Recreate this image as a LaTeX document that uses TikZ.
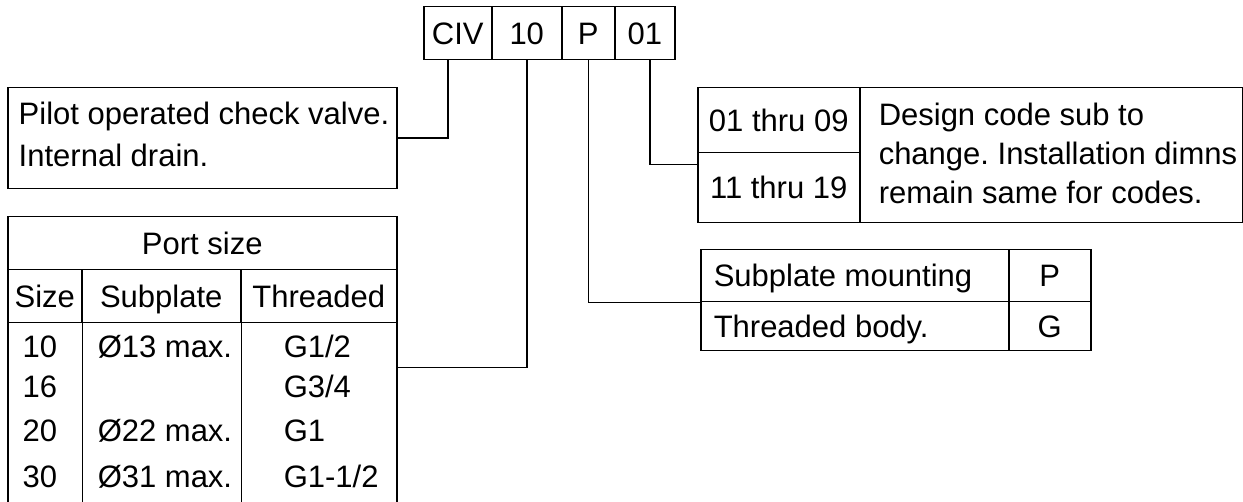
\documentclass[tikz,border=0pt]{standalone}
\usepackage{fontspec}
\setmainfont{Liberation Sans}
\frenchspacing
\begin{document}
\begin{tikzpicture}[x=1pt, y=-1pt, line width=1.5pt,
    every node/.style={font=\fontsize{31}{39}\selectfont},
    cell/.style={draw, rectangle, anchor=north west, inner sep=0pt,
      text height=22pt, text depth=0pt},
    txt/.style={inner sep=0pt, align=left}]
  \useasboundingbox (0,0) rectangle (1243,502);
  \clip (0,0) rectangle (1243,502);

  % order code
  \node[cell, minimum width=68pt, minimum height=53pt] (civ) at (423,6) {CIV};
  \node[cell, minimum width=70pt, minimum height=53pt] (size) at (491,6) {10};
  \node[cell, minimum width=53pt, minimum height=53pt] (mount) at (561,6) {P};
  \node[cell, minimum width=60pt, minimum height=53pt] (design) at (614,6) {01};

  % valve type
  \node[cell, minimum width=389pt, minimum height=101pt] (pilot) at (7,87) {};
  \node[txt, anchor=north west, font=\fontsize{31}{42}\selectfont] (pilottext)
    at (18,101) {Pilot operated check valve.\\Internal drain.};

  % port size table
  \node[cell, minimum width=389pt, minimum height=302pt] (port) at (7,216) {};
  \node[cell, minimum width=389pt, minimum height=53pt] (porthead) at (7,216) {Port size};
  \node[cell, minimum width=74pt, minimum height=53pt] (sizehead) at (7,269) {Size};
  \node[cell, minimum width=159pt, minimum height=53pt] (platehead) at (81,269) {Subplate};
  \node[cell, minimum width=156pt, minimum height=53pt] (threadhead) at (240,269) {Threaded};
  \draw (sizehead.south east) -- (sizehead.south east |- port.south);
  \draw (platehead.south east) -- (platehead.south east |- port.south);
  \foreach \y/\sz/\plate/\thread in {358/10/{Ø13 max.}/{G1/2}, 398/16//{G3/4},
      442/20/{Ø22 max.}/G1, 488/30/{Ø31 max.}/{G1-1/2}} {
    \node[txt, anchor=base west] (sz-\sz) at (22,\y) {\sz};
    \node[txt, anchor=base west] (plate-\sz) at (97,\y) {\plate};
    \node[txt, anchor=base west] (thread-\sz) at (283,\y) {\thread};
  }

  % design code table
  \node[cell, minimum width=162pt, minimum height=65pt] (code1) at (697,87) {01 thru 09};
  \node[cell, minimum width=162pt, minimum height=70pt] (code2) at (697,152) {11 thru 19};
  \node[cell, minimum width=383pt, minimum height=135pt] (desc) at (859,87) {};
  \node[txt, anchor=north west] (desctext) at (878,102)
    {Design code sub to\\change. Installation dimns\\remain same for codes.};

  % mounting table
  \node[cell, minimum width=308pt, minimum height=52pt, text width=282pt,
    inner xsep=13pt, align=flush left] (mrow1) at (700,249) {Subplate mounting};
  \node[cell, minimum width=82pt, minimum height=52pt] (mcode1) at (1008,249) {P};
  \node[cell, minimum width=308pt, minimum height=49pt, text width=282pt,
    inner xsep=13pt, align=flush left] (mrow2) at (700,301) {Threaded body.};
  \node[cell, minimum width=82pt, minimum height=49pt] (mcode2) at (1008,301) {G};

  % connectors
  \draw ([xshift=-10pt]civ.south) |- (pilot.east);
  \draw (size.south) |- (port.east);
  \draw (mount.south) |- (mrow1.south west);
  \draw ([xshift=5pt]design.south) |- ([yshift=-11pt]code1.south west);
\end{tikzpicture}
\end{document}
